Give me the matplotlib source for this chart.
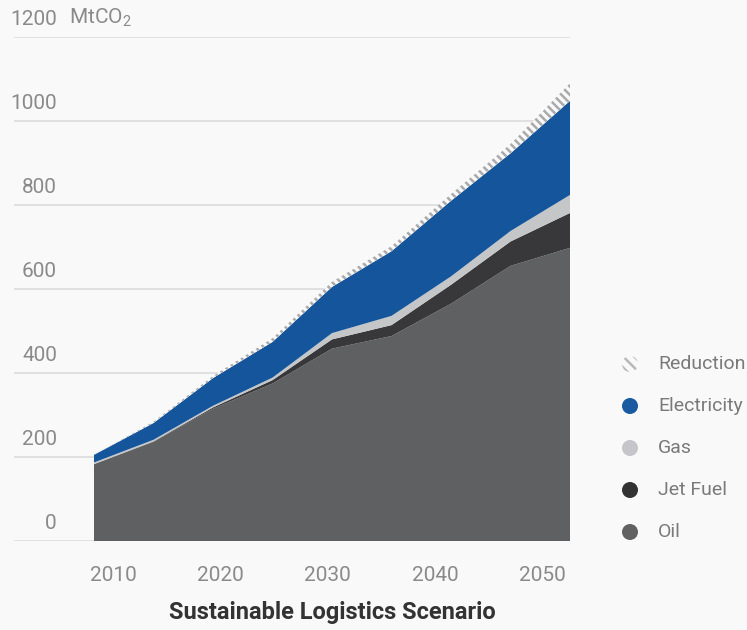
import matplotlib
matplotlib.use("Agg")
import matplotlib.pyplot as plt
from matplotlib.patches import Circle
import numpy as np

plt.rcParams['font.family'] = ['Roboto', 'DejaVu Sans']
plt.rcParams['mathtext.fontset'] = 'custom'
plt.rcParams['mathtext.rm'] = 'Roboto'
plt.rcParams['hatch.linewidth'] = 1.8

# MtCO2 by fuel, 5-year steps
years = [2010, 2015, 2020, 2025, 2030, 2035, 2040, 2045, 2050]
oil = [183, 236, 315, 375, 458, 488, 565, 655, 698]
jet_fuel = [0, 1, 3, 8, 22, 26, 45, 58, 83]
gas = [4, 4, 4, 6, 15, 22, 20, 25, 43]
electricity = [18, 40, 66, 85, 110, 154, 180, 185, 224]
reduction = [0, 3, 5, 9, 12, 12, 16, 22, 42]

series = ['Oil', 'Jet Fuel', 'Gas', 'Electricity', 'Reduction']
values = [oil, jet_fuel, gas, electricity, reduction]
colors = ['#5f6062', '#38383a', '#c5c6c8', '#14559b', '#f9f9f9']

xtick_labels = ['2010', '2020', '2030', '2040', '2050']
ytick_values = [0, 200, 400, 600, 800, 1000, 1200]

bg = '#f9f9f9'
fig = plt.figure(figsize=(7.47, 6.3), dpi=100, facecolor=bg)
ax = fig.add_axes([14 / 747, 89 / 630, 556 / 747, 504 / 630])
ax.set_facecolor(bg)

x = np.array(years)
base = np.zeros(len(years))
for name, vals, col in zip(series, values, colors):
    top = base + np.array(vals)
    if name == 'Reduction':
        ax.fill_between(x, base, top, facecolor=col, edgecolor='#aaaaac',
                        hatch='\\\\\\\\', linewidth=0, zorder=2)
    else:
        ax.fill_between(x, base, top, facecolor=col, linewidth=0, zorder=2)
    base = top

# gridlines with labels sitting above them
x0 = 2010 - 80 / 59.5 * 5
for v in ytick_values:
    ax.axhline(v, color='#dcdcdc', linewidth=1.2, zorder=1)
    ax.text(x0 + 43 / 59.5 * 5, v + 20, str(v), ha='right', va='bottom',
            fontsize=15, color='#8a8a8a')
ax.text(x0 + 55 / 59.5 * 5, 1220, 'MtCO$_2$', ha='left', va='bottom',
        fontsize=15, color='#8a8a8a')

ax.set_xlim(x0, 2050)
ax.set_ylim(0, 1200)
ax.set_xticks(np.linspace(2011.6, 2047.7, 5))
ax.set_xticklabels(xtick_labels, fontsize=15, color='#8a8a8a')
ax.tick_params(axis='x', length=0, pad=18)
ax.set_yticks([])
for s in ax.spines.values():
    s.set_visible(False)

fig.text(332 / 747, 1 - 613 / 630, 'Sustainable Logistics Scenario',
         ha='center', va='center', fontsize=17, fontweight='bold',
         color='#333333')

# legend drawn in pixel coordinates
lg = fig.add_axes([610 / 747, 75 / 630, 137 / 747, 215 / 630])
lg.set_xlim(610, 747)
lg.set_ylim(555, 340)
lg.axis('off')
leg_colors = ['#c8c8c8', '#1a5aa0', '#c6c6ca', '#333333', '#616161']
leg_names = ['Reduction', 'Electricity', 'Gas', 'Jet Fuel', 'Oil']
for i, (name, col) in enumerate(zip(leg_names, leg_colors)):
    cy = 364 + 42 * i
    if name == 'Reduction':
        lg.add_patch(Circle((630, cy), 8, facecolor=bg, edgecolor='#b8b8b8',
                            hatch='\\\\\\', linewidth=0))
    else:
        lg.add_patch(Circle((630, cy), 8, facecolor=col, linewidth=0))
    lg.text(658, cy, name, ha='left', va='center', fontsize=14,
            color='#7a7a7a')

fig.savefig('out.png', dpi=100, facecolor=bg)
